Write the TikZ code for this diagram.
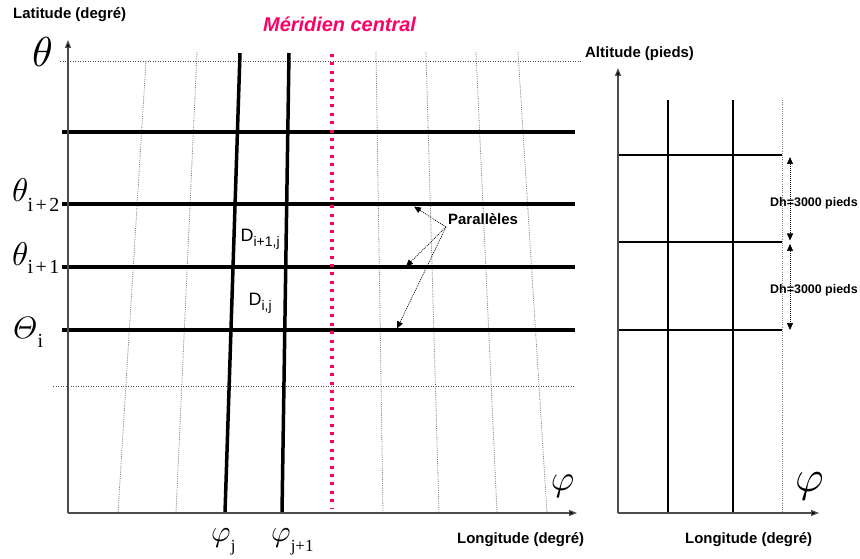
\documentclass[tikz,border=0pt]{standalone}
\usepackage{amsmath}
\usepackage{graphicx}
\usepackage{fontspec}
\setmainfont{Liberation Serif}
\newfontfamily\arial{Liberation Sans}
\usetikzlibrary{arrows.meta}
\definecolor{merid}{HTML}{FF0066}
\newcommand{\bigsym}[2]{\scalebox{#1}{$#2$}}
\begin{document}
\begin{tikzpicture}[x=1bp,y=-1bp,
  thickgrid/.style={line width=3.5bp,draw=black},
  rgrid/.style={line width=2.8bp,draw=black},
  axis/.style={line width=1.2bp,draw=black!70,-{Triangle[length=8bp,width=6bp,fill=black]}},
  grat/.style={draw=black!50,line width=0.8bp,dash pattern=on 1bp off 1.2bp},
  hdot/.style={draw=black!70,line width=0.8bp,dash pattern=on 1bp off 1.5bp},
  lab/.style={inner sep=0,anchor=base west,font={\arial\bfseries\fontsize{15}{18}\selectfont}},
  dlab/.style={inner sep=0,anchor=base west,font={\arial\bfseries\fontsize{12.5}{15}\selectfont}},
  sym/.style={inner sep=0,anchor=base west},
  ptr/.style={draw=black,line width=0.7bp,dash pattern=on 1bp off 1bp,-{Triangle[length=7bp,width=6bp]}},
  dim/.style={draw=black,line width=0.7bp,dash pattern=on 1bp off 1bp,{Triangle[length=7bp,width=6bp]}-{Triangle[length=7bp,width=6bp]}}
]
\useasboundingbox (0,0) rectangle (860,559);

% ---------- left panel ----------
% graticule (converging meridians)
\draw[grat] (146,61) -- (118,513);
\draw[grat] (197,52) -- (176,513);
\draw[grat] (376,52) -- (383,513);
\draw[grat] (426,52) -- (439,513);
\draw[grat] (476,52) -- (497,513);
\draw[grat] (518,52) -- (547,513);
% dotted limits
\draw[hdot] (60,61) -- (582,61);
\draw[hdot] (53,386) -- (575,386);
% parallels
\foreach \yy in {132,204,267,330} \draw[thickgrid] (62,\yy) -- (575,\yy);
% meridians
\draw[thickgrid] (240,53) -- (225,513);
\draw[thickgrid] (289,53) -- (282,513);
% central meridian
\draw[merid,line width=3.2bp,dash pattern=on 3bp off 5.4bp] (332,54) -- (332,508);
% axes
\draw[axis] (68,513) -- (68,40);
\draw[axis] (68,513) -- (577,513);

% labels
\node[lab] (lat) at (13,18.5) {Latitude (degré)};
\node[inner sep=0,anchor=base west,text=merid,font={\arial\bfseries\itshape\fontsize{20}{24}\selectfont}] (mc) at (263,32) {Méridien central};
\node[lab] (lon1) at (457,543.5) {Longitude (degré)};

\node[sym] (th) at (32,67) {\bigsym{4.2}{\theta}};
\node[sym] (th2) at (12,202) {\bigsym{3.3}{\theta}\kern-1bp\raisebox{-10bp}{\fontsize{20}{20}\selectfont i\kern2.5bp+\kern2.5bp2}};
\node[sym] (th1) at (12,266) {\bigsym{3.3}{\theta}\kern-1bp\raisebox{-8bp}{\fontsize{20}{20}\selectfont i\kern2.5bp+\kern2.5bp1}};
\node[sym] (th0) at (13,339) {\bigsym{3.1}{\varTheta}\raisebox{-8bp}{\fontsize{20}{20}\selectfont i}};

\node[sym] (phj) at (211,541) {\bigsym{3.0}{\varphi}\raisebox{-10bp}{\fontsize{17}{17}\selectfont j}};
\node[sym] (phj1) at (271,541) {\bigsym{3.0}{\varphi}\raisebox{-10bp}{\fontsize{17}{17}\selectfont j+1}};
\node[inner sep=0] (phL) at (562.5,486) {\bigsym{3.6}{\varphi}};

\node[sym] (d1) at (240.5,242) {{\arial\fontsize{18}{18}\selectfont D}\raisebox{-5bp}{\arial\fontsize{14}{14}\selectfont i+1,j}};
\node[sym] (d0) at (248.5,306) {{\arial\fontsize{18}{18}\selectfont D}\raisebox{-5bp}{\arial\fontsize{14}{14}\selectfont i,j}};

% Parallèles pointers
\node[lab] (par) at (448,224.5) {Parallèles};
\coordinate (ps) at (446,227);
\coordinate (t2) at (414,206.5);
\coordinate (t1) at (406,266.5);
\coordinate (t0) at (397,328.5);
\draw[ptr] (ps) -- (t2);
\draw[ptr] (ps) -- (t1);
\draw[ptr] (ps) -- (t0);

% ---------- right panel ----------
\draw[grat] (782,100) -- (782,513);
\draw[rgrid] (668,100) -- (668,513);
\draw[rgrid] (733,100) -- (733,513);
\foreach \yy in {155,242,330} \draw[rgrid] (618,\yy) -- (782,\yy);
\draw[axis] (618,513) -- (618,68);
\draw[axis] (618,513) -- (819,513);

\coordinate (a1) at (790,157);
\coordinate (a2) at (790,240.5);
\coordinate (a3) at (790,244);
\coordinate (a4) at (790,330);
\draw[dim] (a1) -- (a2);
\draw[dim] (a3) -- (a4);
\node[dlab] (dh1) at (770,207) {Dh=3000 pieds};
\node[dlab] (dh2) at (770,294) {Dh=3000 pieds};

\node[lab] (alt) at (585,57.5) {Altitude (pieds)};
\node[lab] (lon2) at (685,543.5) {Longitude (degré)};
\node[inner sep=0] (phR) at (809.5,486.5) {\bigsym{4.4}{\varphi}};
\end{tikzpicture}
\end{document}
